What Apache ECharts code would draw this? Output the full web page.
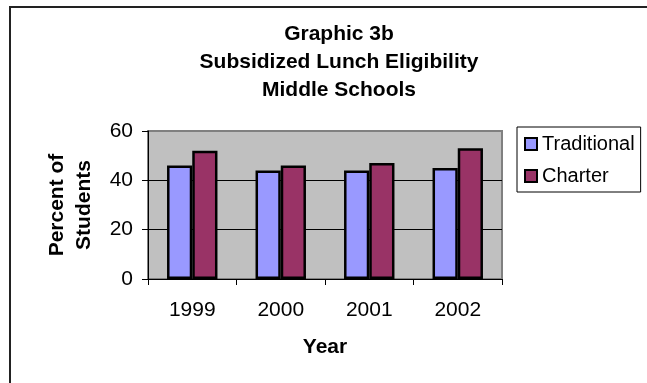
<!DOCTYPE html>
<html>
<head>
<meta charset="utf-8">
<title>Graphic 3b</title>
<script src="https://cdn.jsdelivr.net/npm/echarts@6/dist/echarts.min.js"></script>
<style>
  html, body { margin: 0; padding: 0; background: #fff; }
  #main { width: 647px; height: 383px; }
</style>
</head>
<body>
<div id="main"></div>
<script>
// 数据
const years = ["1999", "2000", "2001", "2002"];
const traditional = [46, 44, 44, 45];
const charter = [52, 46, 47, 53];
const seriesNames = ["Traditional", "Charter"];

const font = "Liberation Sans, Arial, sans-serif";

const chart = echarts.init(document.getElementById("main"));
const option = {
  backgroundColor: "#fff",
  animation: false,
  // 外框
  graphic: [
    {
      type: "rect",
      shape: { x: 10, y: 7, width: 700, height: 500 },
      style: { fill: "none", stroke: "#222", lineWidth: 2 },
      silent: true,
    },
  ],
  title: {
    text: "Graphic 3b\nSubsidized Lunch Eligibility\nMiddle Schools",
    left: 334,
    top: 15,
    textAlign: "center",
    textStyle: {
      fontFamily: font,
      fontSize: 21,
      fontWeight: "bold",
      color: "#000",
      lineHeight: 28,
    },
  },
  legend: {
    data: seriesNames,
    orient: "vertical",
    left: 517,
    top: 127,
    padding: [7, 6, 6, 7],
    itemGap: 12,
    itemWidth: 12,
    itemHeight: 12,
    borderColor: "#000",
    borderWidth: 1,
    icon: "rect",
    textStyle: { fontFamily: font, fontSize: 20, color: "#000" },
  },
  grid: {
    left: 148,
    top: 131,
    right: 145,
    bottom: 104,
    show: true,
    backgroundColor: "#c0c0c0",
    borderColor: "#808080",
    borderWidth: 2,
  },
  xAxis: {
    type: "category",
    data: years,
    name: "Year",
    nameLocation: "middle",
    nameGap: 58,
    nameTextStyle: { fontFamily: font, fontSize: 21, fontWeight: "bold", color: "#000" },
    axisLine: { show: true, lineStyle: { color: "#000", width: 1 } },
    axisTick: { show: true, length: 6, lineStyle: { color: "#000" } },
    axisLabel: { fontFamily: font, fontSize: 21, color: "#000", margin: 21 },
  },
  yAxis: {
    type: "value",
    min: 0,
    max: 60,
    interval: 20,
    name: "Percent of\nStudents",
    nameLocation: "middle",
    nameRotate: 90,
    nameGap: 50,
    nameTextStyle: { fontFamily: font, fontSize: 21, fontWeight: "bold", color: "#000", lineHeight: 27 },
    axisLine: { show: true, lineStyle: { color: "#000", width: 1 } },
    axisTick: { show: true, length: 6, lineStyle: { color: "#000" } },
    axisLabel: { fontFamily: font, fontSize: 21, color: "#000", margin: 15 },
    splitLine: { show: true, showMinLine: false, showMaxLine: false, lineStyle: { color: "#000", width: 1 } },
  },
  series: [
    {
      name: seriesNames[0],
      type: "bar",
      data: traditional,
      barGap: "0%",
      barCategoryGap: "43%",
      itemStyle: { color: "#9999ff", borderColor: "#000", borderWidth: 2.5 },
    },
    {
      name: seriesNames[1],
      type: "bar",
      data: charter,
      itemStyle: { color: "#993366", borderColor: "#000", borderWidth: 2.5 },
    },
  ],
};
chart.setOption(option);
</script>
</body>
</html>
